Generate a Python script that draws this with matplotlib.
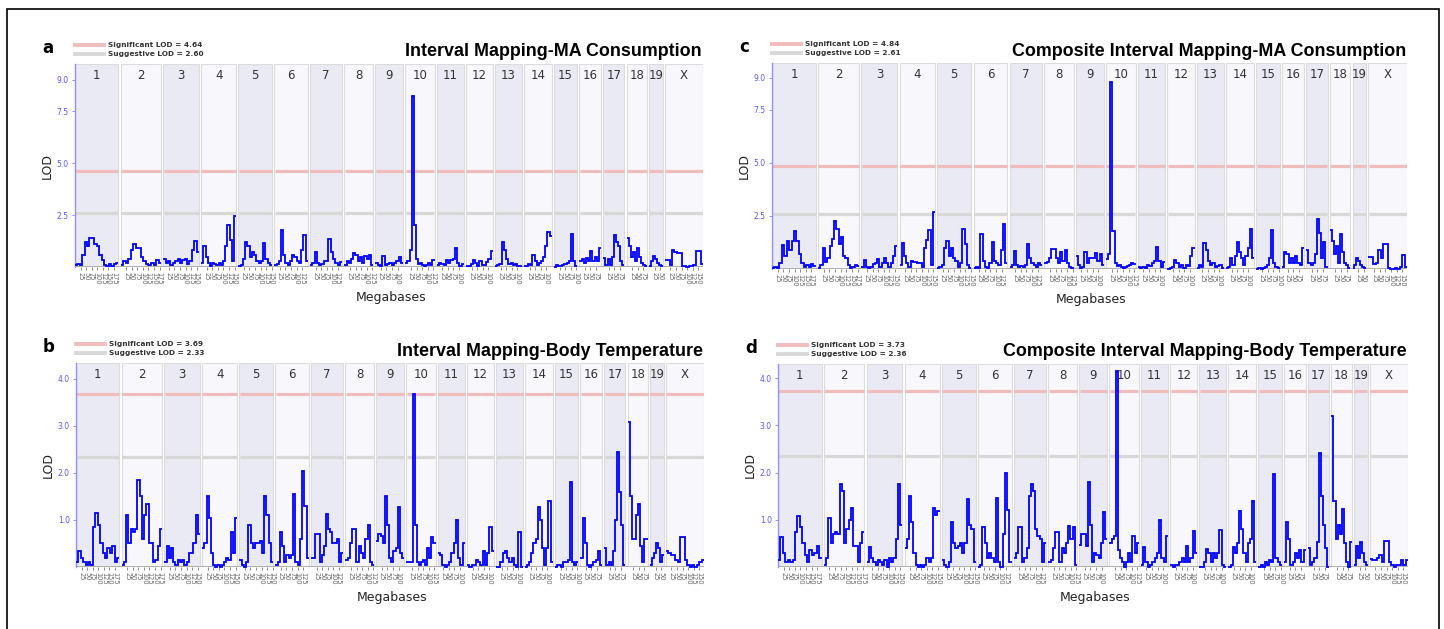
import numpy as np
import matplotlib
matplotlib.use('Agg')
import matplotlib.pyplot as plt
from matplotlib.patches import Rectangle

# mouse chromosomes and approximate lengths (Mb)
chrom_names = ['1', '2', '3', '4', '5', '6', '7', '8', '9', '10',
               '11', '12', '13', '14', '15', '16', '17', '18', '19', 'X']
chrom_len_mb = [195, 182, 160, 157, 152, 150, 145, 129, 125, 131,
                122, 120, 120, 125, 104, 98, 95, 91, 61, 171]

# LOD profiles, evenly spaced bins along each chromosome
lod_im_ma = [
    [0.1, 0.15, 0.1, 0.6, 1.2, 1.0, 1.4, 1.4, 1.1, 1.0, 0.6, 0.35, 0.1, 0.05, 0.15, 0.05, 0.15, 0.2],
    [0.1, 0.3, 0.2, 0.4, 0.8, 1.1, 0.9, 0.9, 0.5, 0.3, 0.15, 0.1, 0.2, 0.1, 0.35, 0.2],
    [0.4, 0.2, 0.3, 0.1, 0.2, 0.3, 0.4, 0.2, 0.35, 0.4, 0.15, 0.3, 0.8, 1.25, 0.7],
    [0.2, 1.0, 0.5, 0.2, 0.05, 0.2, 0.15, 0.1, 0.2, 0.1, 0.3, 1.0, 2.0, 1.3, 0.3, 2.45],
    [0.05, 0.1, 0.4, 1.2, 1.0, 0.5, 0.7, 0.6, 0.3, 0.2, 0.3, 1.15, 0.4, 0.2, 0.1],
    [0.1, 0.15, 0.3, 1.8, 0.6, 0.2, 0.1, 0.3, 0.6, 0.5, 0.3, 0.2, 0.8, 1.55, 0.3],
    [0.1, 0.2, 0.7, 0.2, 0.1, 0.15, 0.3, 0.3, 1.35, 0.7, 0.4, 0.2, 0.1, 0.25],
    [0.1, 0.3, 0.2, 0.4, 0.65, 0.6, 0.3, 0.5, 0.2, 0.55, 0.4, 0.6, 0.1],
    [0.2, 0.1, 0.05, 0.55, 0.1, 0.15, 0.2, 0.1, 0.2, 0.3, 0.5, 0.2],
    [0.2, 0.3, 0.8, 8.24, 2.0, 0.4, 0.15, 0.2, 0.1, 0.05, 0.1, 0.2, 0.1, 0.35],
    [0.1, 0.2, 0.15, 0.1, 0.35, 0.2, 0.35, 0.4, 0.9, 0.2, 0.05, 0.15],
    [0.05, 0.05, 0.15, 0.35, 0.2, 0.05, 0.3, 0.1, 0.1, 0.25, 0.4, 0.75],
    [0.05, 0.1, 0.15, 1.2, 0.8, 0.4, 0.15, 0.2, 0.1, 0.15, 0.05, 0.05],
    [0.05, 0.05, 0.15, 0.1, 0.6, 0.3, 0.1, 0.2, 0.3, 0.5, 1.0, 1.7, 1.5],
    [0.0, 0.1, 0.05, 0.05, 0.1, 0.15, 0.2, 0.3, 1.6, 0.3, 0.05],
    [0.3, 0.4, 0.2, 0.45, 0.3, 0.75, 0.3, 0.5, 0.3, 0.9],
    [0.45, 0.1, 0.4, 0.1, 0.5, 1.55, 1.2, 1.0, 0.3, 0.1],
    [1.4, 1.0, 0.5, 0.7, 0.3, 0.9, 0.5, 0.2, 0.1, 0.05],
    [0.05, 0.3, 0.55, 0.4, 0.2, 0.1, 0.05],
    [0.35, 0.35, 0.1, 0.8, 0.7, 0.65, 0.65, 0.05, 0.05, 0.0, 0.05, 0.05, 0.1, 0.75, 0.75, 0.15],
]

lod_im_bt = [
    [0.1, 0.35, 0.2, 0.1, 0.05, 0.1, 0.05, 0.85, 1.15, 0.9, 0.5, 0.3, 0.2, 0.4, 0.3, 0.45, 0.1, 0.2],
    [0.05, 0.1, 1.1, 0.5, 0.8, 0.75, 0.8, 1.85, 1.5, 0.6, 1.1, 1.35, 0.5, 0.5, 0.1, 0.15, 0.45, 0.8],
    [0.1, 0.45, 0.2, 0.4, 0.1, 0.05, 0.15, 0.1, 0.15, 0.05, 0.1, 0.3, 0.3, 0.5, 1.1, 0.7],
    [0.4, 0.5, 1.5, 1.05, 0.3, 0.05, 0.0, 0.05, 0.0, 0.05, 0.1, 0.2, 0.15, 0.75, 0.3, 1.05],
    [0.15, 0.05, 0.0, 0.1, 0.9, 0.5, 0.4, 0.5, 0.5, 0.55, 0.3, 1.5, 1.1, 0.5, 0.1],
    [0.05, 0.1, 0.75, 0.45, 0.1, 0.25, 0.2, 0.25, 1.55, 0.1, 0.05, 0.6, 2.05, 1.3, 0.2],
    [0.2, 0.2, 0.7, 0.7, 0.1, 0.25, 0.45, 1.12, 0.8, 0.75, 0.5, 0.5, 0.6, 0.1, 0.3],
    [0.15, 0.2, 0.5, 0.8, 0.8, 0.1, 0.45, 0.3, 0.2, 0.6, 0.9, 0.1, 0.05],
    [0.55, 0.7, 0.65, 0.5, 1.52, 0.9, 0.2, 0.1, 0.35, 0.4, 1.27, 0.3, 0.2],
    [0.1, 0.1, 0.1, 3.69, 0.9, 0.1, 0.05, 0.1, 0.15, 0.05, 0.4, 0.2, 0.63, 0.5],
    [0.3, 0.25, 0.05, 0.0, 0.05, 0.1, 0.3, 0.5, 1.0, 0.2, 0.05, 0.5],
    [0.05, 0.0, 0.05, 0.05, 0.15, 0.1, 0.05, 0.35, 0.05, 0.3, 0.85, 0.35],
    [0.0, 0.0, 0.1, 0.3, 0.35, 0.2, 0.1, 0.2, 0.05, 0.0, 0.75, 0.0],
    [0.0, 0.05, 0.1, 0.3, 0.5, 0.6, 1.28, 1.0, 0.4, 0.05, 0.4, 1.4, 0.1],
    [0.0, 0.05, 0.05, 0.0, 0.1, 0.1, 0.15, 1.8, 0.1, 0.05, 0.1],
    [0.2, 1.05, 0.5, 0.05, 0.0, 0.05, 0.1, 0.15, 0.35, 0.05],
    [0.4, 0.05, 0.1, 0.05, 0.35, 1.0, 2.45, 1.6, 0.9, 0.05],
    [3.09, 1.5, 0.6, 0.6, 1.1, 1.33, 0.45, 0.1, 0.6, 0.6],
    [0.05, 0.2, 0.3, 0.5, 0.4, 0.1, 0.25],
    [0.35, 0.3, 0.25, 0.25, 0.15, 0.1, 0.63, 0.63, 0.15, 0.05, 0.0, 0.05, 0.0, 0.05, 0.1, 0.15],
]

lod_cim_ma = [
    [0.05, 0.1, 0.05, 0.3, 1.15, 0.6, 1.3, 0.9, 1.3, 1.78, 1.3, 0.7, 0.3, 0.1, 0.2, 0.1, 0.25, 0.15],
    [0.05, 0.2, 1.0, 0.35, 0.5, 1.1, 1.4, 2.28, 1.9, 1.2, 1.5, 0.6, 0.5, 0.2, 0.05, 0.1, 0.2, 0.15],
    [0.1, 0.42, 0.1, 0.05, 0.1, 0.25, 0.3, 0.45, 0.1, 0.3, 0.5, 0.3, 0.1, 0.3, 0.6, 1.08],
    [0.2, 1.24, 0.6, 0.3, 0.1, 0.4, 0.35, 0.35, 0.3, 0.3, 0.1, 1.0, 1.35, 1.84, 0.2, 2.7],
    [0.05, 0.1, 0.2, 1.0, 1.34, 0.6, 0.97, 0.5, 0.4, 0.1, 0.3, 1.9, 1.2, 0.2, 0.05],
    [0.05, 0.1, 0.05, 1.64, 0.4, 0.1, 0.05, 0.3, 1.26, 0.4, 0.3, 0.2, 0.9, 2.1, 0.3],
    [0.1, 0.2, 0.86, 0.2, 0.1, 0.15, 0.1, 0.2, 1.16, 0.5, 0.3, 0.2, 0.1, 0.3, 0.2],
    [0.3, 0.35, 0.5, 0.95, 0.95, 0.5, 0.3, 0.8, 0.4, 0.9, 0.3, 0.1, 0.05],
    [0.6, 0.2, 0.05, 0.1, 0.8, 0.3, 0.5, 0.5, 0.5, 0.75, 0.4, 0.7, 0.2],
    [0.45, 0.7, 8.8, 1.8, 0.3, 0.15, 0.2, 0.1, 0.05, 0.1, 0.15, 0.2, 0.3, 0.25],
    [0.1, 0.05, 0.1, 0.05, 0.2, 0.15, 0.3, 0.4, 1.02, 0.4, 0.1, 0.35],
    [0.0, 0.05, 0.1, 0.42, 0.3, 0.1, 0.2, 0.05, 0.2, 0.15, 0.6, 0.97],
    [0.05, 0.2, 0.1, 1.24, 0.9, 0.4, 0.2, 0.3, 0.1, 0.15, 0.2, 0.05],
    [0.05, 0.1, 0.5, 0.2, 0.6, 1.29, 0.8, 0.5, 0.2, 0.6, 1.0, 1.89, 0.5],
    [0.0, 0.05, 0.0, 0.05, 0.1, 0.2, 0.5, 1.84, 0.3, 0.1, 0.05],
    [0.1, 0.82, 0.7, 0.3, 0.5, 0.3, 0.6, 0.3, 0.2, 1.0],
    [0.9, 0.3, 0.2, 0.3, 0.7, 2.34, 1.7, 0.5, 1.26, 0.1],
    [1.84, 1.3, 0.7, 1.1, 0.3, 1.65, 0.8, 0.3, 0.2, 0.05],
    [0.05, 0.2, 0.5, 0.4, 0.2, 0.1, 0.05],
    [0.58, 0.55, 0.25, 0.3, 0.9, 0.5, 1.2, 1.2, 0.05, 0.0, 0.0, 0.05, 0.0, 0.1, 0.66, 0.1],
]

lod_cim_bt = [
    [0.15, 0.64, 0.3, 0.1, 0.15, 0.1, 0.15, 0.75, 1.08, 0.85, 0.5, 0.25, 0.1, 0.35, 0.25, 0.3, 0.45, 0.2],
    [0.05, 0.2, 1.03, 0.5, 0.7, 0.75, 0.7, 1.75, 1.6, 0.5, 0.8, 1.0, 1.25, 0.45, 0.45, 0.1, 0.5, 0.75],
    [0.1, 0.43, 0.2, 0.1, 0.05, 0.15, 0.1, 0.05, 0.15, 0.0, 0.2, 0.1, 0.2, 0.6, 1.75, 0.9],
    [0.4, 0.6, 1.5, 0.95, 0.3, 0.05, 0.0, 0.05, 0.0, 0.05, 0.2, 0.1, 0.2, 1.25, 1.1, 1.18],
    [0.15, 0.05, 0.0, 0.1, 0.96, 0.5, 0.4, 0.45, 0.5, 0.3, 0.5, 1.43, 0.9, 0.8, 0.1],
    [0.0, 0.05, 0.85, 0.5, 0.2, 0.3, 0.2, 0.1, 1.47, 0.1, 0.0, 0.7, 2.0, 1.2, 0.1],
    [0.2, 0.3, 0.85, 0.85, 0.1, 0.2, 0.4, 1.5, 1.75, 1.6, 0.8, 0.65, 0.6, 0.1, 0.5],
    [0.1, 0.15, 0.4, 0.75, 0.75, 0.1, 0.4, 0.3, 0.5, 0.87, 0.6, 0.85, 0.05],
    [0.47, 0.7, 0.7, 0.45, 1.79, 0.9, 0.1, 0.3, 0.25, 0.2, 0.5, 1.17, 0.6],
    [0.5, 0.6, 0.65, 4.16, 0.35, 0.2, 0.1, 0.0, 0.1, 0.3, 0.1, 0.66, 0.3, 0.5],
    [0.05, 0.42, 0.1, 0.0, 0.05, 0.1, 0.2, 0.3, 1.0, 0.2, 0.1, 0.65],
    [0.05, 0.0, 0.05, 0.05, 0.1, 0.2, 0.1, 0.44, 0.1, 0.2, 0.76, 0.3],
    [0.0, 0.0, 0.1, 0.39, 0.3, 0.1, 0.3, 0.2, 0.3, 0.78, 0.05, 0.0],
    [0.0, 0.05, 0.42, 0.3, 0.5, 1.18, 0.8, 0.3, 0.1, 0.5, 0.6, 1.39, 0.1],
    [0.0, 0.05, 0.0, 0.1, 0.05, 0.15, 0.1, 1.98, 0.2, 0.1, 0.05],
    [0.1, 0.96, 0.6, 0.05, 0.1, 0.3, 0.2, 0.35, 0.1, 0.35],
    [0.4, 0.05, 0.1, 0.2, 0.54, 2.42, 1.5, 0.9, 0.4, 0.0],
    [3.2, 1.4, 0.6, 0.9, 0.7, 1.22, 0.5, 0.1, 0.0, 0.54],
    [0.05, 0.44, 0.2, 0.54, 0.3, 0.1, 0.05],
    [0.18, 0.15, 0.15, 0.2, 0.25, 0.1, 0.55, 0.55, 0.1, 0.05, 0.0, 0.05, 0.05, 0.15, 0.05, 0.15],
]

sig_lod = [4.64, 3.69, 4.84, 3.73]
sug_lod = [2.60, 2.33, 2.61, 2.36]
panel_letters = ['a', 'b', 'c', 'd']
panel_titles = ['Interval Mapping-MA Consumption',
                'Interval Mapping-Body Temperature',
                'Composite Interval Mapping-MA Consumption',
                'Composite Interval Mapping-Body Temperature']

W, H = 1444, 629
fig = plt.figure(figsize=(W / 100, H / 100), dpi=100)
fig.patch.set_facecolor('white')


def fx(px):
    return px / W


def fy(py):
    return 1 - py / H


# panel boxes in pixels: left, top, right, bottom(zero line), ymax, yticks
boxes = [
    (75, 64, 703, 267, 9.77, [2.5, 5.0, 7.5, 9.0]),
    (76, 363, 704, 567, 4.34, [1.0, 2.0, 3.0, 4.0]),
    (772, 63, 1407, 269, 9.70, [2.5, 5.0, 7.5, 9.0]),
    (778, 364, 1408, 567, 4.30, [1.0, 2.0, 3.0, 4.0]),
]
all_lods = [lod_im_ma, lod_im_bt, lod_cim_ma, lod_cim_bt]

for k, (l, t, r, b, ymax, yticks) in enumerate(boxes):
    ax = fig.add_axes([fx(l), fy(b), (r - l) / W, (b - t) / H])
    ax.set_facecolor('white')
    gap_px = 2.2
    scale = ((r - l) - 19 * gap_px) / sum(chrom_len_mb)
    gap = gap_px / scale
    starts = np.concatenate([[0], np.cumsum(np.array(chrom_len_mb) + gap)[:-1]])

    tick_pos, tick_lab = [], []
    for i, (name, length) in enumerate(zip(chrom_names, chrom_len_mb)):
        x0, x1 = starts[i], starts[i] + length
        face = '#eaeaf4' if i % 2 == 0 else '#f8f8fc'
        ax.axvspan(x0, x1, facecolor=face, edgecolor='#dcdcdc', lw=0.8, zorder=0)
        ax.hlines(sig_lod[k], x0 + 1, x1 - 1, color='#f0bcbc', lw=2.3, zorder=1)
        ax.hlines(sug_lod[k], x0 + 1, x1 - 1, color='#d8d8d8', lw=2.3, zorder=1)
        vals = all_lods[k][i]
        edges = np.linspace(x0, x1, len(vals) + 1)
        ax.stairs(vals, edges, baseline=None, color='#0000ff', lw=1.3,
                  zorder=3, clip_on=False)
        ax.text((x0 + x1) / 2, ymax * 0.975, name, ha='center', va='top',
                fontsize=8.5, color='#333333', zorder=4)
        for mb in range(25, length, 25):
            tick_pos.append(x0 + mb)
            tick_lab.append(str(mb))

    ax.set_xlim(0, starts[-1] + chrom_len_mb[-1])
    ax.set_ylim(0, ymax)
    ax.axhline(0, color='#aaaaaa', lw=1.3, zorder=2)
    ax.set_xticks(tick_pos)
    ax.set_xticklabels(tick_lab, rotation=270, fontsize=4.8, color='#666666')
    ax.tick_params(axis='x', length=2.5, width=0.6, color='#777777', pad=1)
    ax.set_yticks(yticks)
    ax.set_yticklabels(['%.1f' % v for v in yticks], fontsize=5.5, color='#5a5aff')
    ax.tick_params(axis='y', length=2.5, width=0.6, color='#8080ff', pad=2)
    for side in ['top', 'right', 'bottom']:
        ax.spines[side].set_visible(False)
    ax.spines['left'].set_color('#9090ff')
    ax.spines['left'].set_linewidth(1.0)

    # labels around the panel
    fig.text(fx(l - 33), fy(t - 16), panel_letters[k], fontsize=12,
             fontweight='bold', ha='left', va='center')
    fig.text(fx(r - 1), fy(t - 12), panel_titles[k], fontsize=12.9,
             fontweight='bold', ha='right', va='center', family='Liberation Sans')
    fig.text(fx(l - 28), fy((t + b) / 2), 'LOD', rotation=90, fontsize=9,
             ha='center', va='center', color='#222222')
    fig.text(fx((l + r) / 2 + 2), fy(b + 30), 'Megabases', fontsize=9,
             ha='center', va='center', color='#222222')
    fig.add_artist(plt.Line2D([fx(l), fx(l + 29)], [fy(t - 19)] * 2,
                              color='#f0bcbc', lw=2.8))
    fig.add_artist(plt.Line2D([fx(l), fx(l + 29)], [fy(t - 10)] * 2,
                              color='#d8d8d8', lw=2.8))
    fig.text(fx(l + 33), fy(t - 19), 'Significant LOD = %.2f' % sig_lod[k],
             fontsize=5.3, fontweight='bold', color='#333333', va='center')
    fig.text(fx(l + 33), fy(t - 10), 'Suggestive LOD = %.2f' % sug_lod[k],
             fontsize=5.3, fontweight='bold', color='#333333', va='center')

# outer frame
fig.add_artist(Rectangle((fx(7), -0.05), fx(1439) - fx(7), fy(9) + 0.05,
                         transform=fig.transFigure, fill=False,
                         edgecolor='black', lw=1.2))

fig.savefig('out.png', dpi=100, facecolor='white')
